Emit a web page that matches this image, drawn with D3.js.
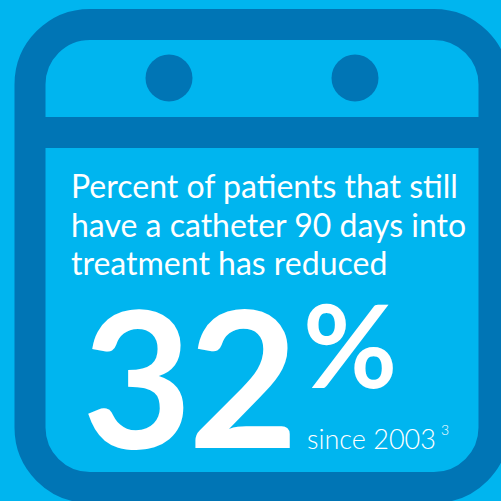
<!DOCTYPE html>
<html><head><meta charset="utf-8">
<script src="https://cdn.jsdelivr.net/npm/d3@7"></script>
<style>html,body{margin:0;padding:0;background:#00b5ef;overflow:hidden}</style>
</head><body>
<svg id="c" width="501" height="501"></svg>
<script>
const headlineLines = ["Percent of patients that still", "have a catheter 90 days into", "treatment has reduced"];
const values = [32];
const unitLabels = ["%"];
const sinceLabels = ["since 2003"];
const footnotes = ["3"];
const holeIds = ["left", "right"];

const svg = d3.select("#c");
const light = "#00b5ef", dark = "#0075b5";
svg.append("rect").attr("width", 501).attr("height", 501).attr("fill", light);

// calendar frame
svg.append("rect").attr("x", 30).attr("y", 24.5).attr("width", 464).attr("height", 463)
  .attr("rx", 60).attr("ry", 60).attr("fill", "none").attr("stroke", dark).attr("stroke-width", 31);
svg.append("rect").attr("x", 44).attr("y", 117).attr("width", 436).attr("height", 31).attr("fill", dark);

const hx = d3.scalePoint().domain(holeIds).range([169, 355]);
svg.selectAll("circle.hole").data(holeIds).join("circle").attr("class", "hole")
  .attr("cx", d => hx(d)).attr("cy", 78).attr("r", 23.5).attr("fill", dark);

const font = "Lato, 'Open Sans', sans-serif";
const ly = d3.scaleLinear().domain([0, 1]).range([198, 236.5]);
svg.selectAll("text.head").data(headlineLines).join("text").attr("class", "head")
  .attr("x", 71).attr("y", (d, i) => ly(i))
  .attr("font-family", font).attr("font-size", 32).attr("fill", "#fff")
  .text(d => d);

svg.selectAll("text.big").data(values).join("text").attr("class", "big")
  .attr("x", 82).attr("y", 448)
  .attr("font-family", font).attr("font-weight", 700).attr("font-size", 190)
  .attr("letter-spacing", -4).attr("fill", "#fff").text(d => d);

svg.selectAll("text.unit").data(unitLabels).join("text").attr("class", "unit")
  .attr("x", 303).attr("y", 388)
  .attr("font-family", font).attr("font-weight", 700).attr("font-size", 115)
  .attr("fill", "#fff").text(d => d);

svg.selectAll("text.since").data(sinceLabels).join("text").attr("class", "since")
  .attr("x", 307).attr("y", 449)
  .attr("font-family", font).attr("font-weight", 300).attr("font-size", 27)
  .attr("fill", "#fff").text(d => d);

svg.selectAll("text.fn").data(footnotes).join("text").attr("class", "fn")
  .attr("x", 441).attr("y", 435)
  .attr("font-family", font).attr("font-weight", 300).attr("font-size", 14)
  .attr("fill", "#fff").text(d => d);
</script>
</body></html>
